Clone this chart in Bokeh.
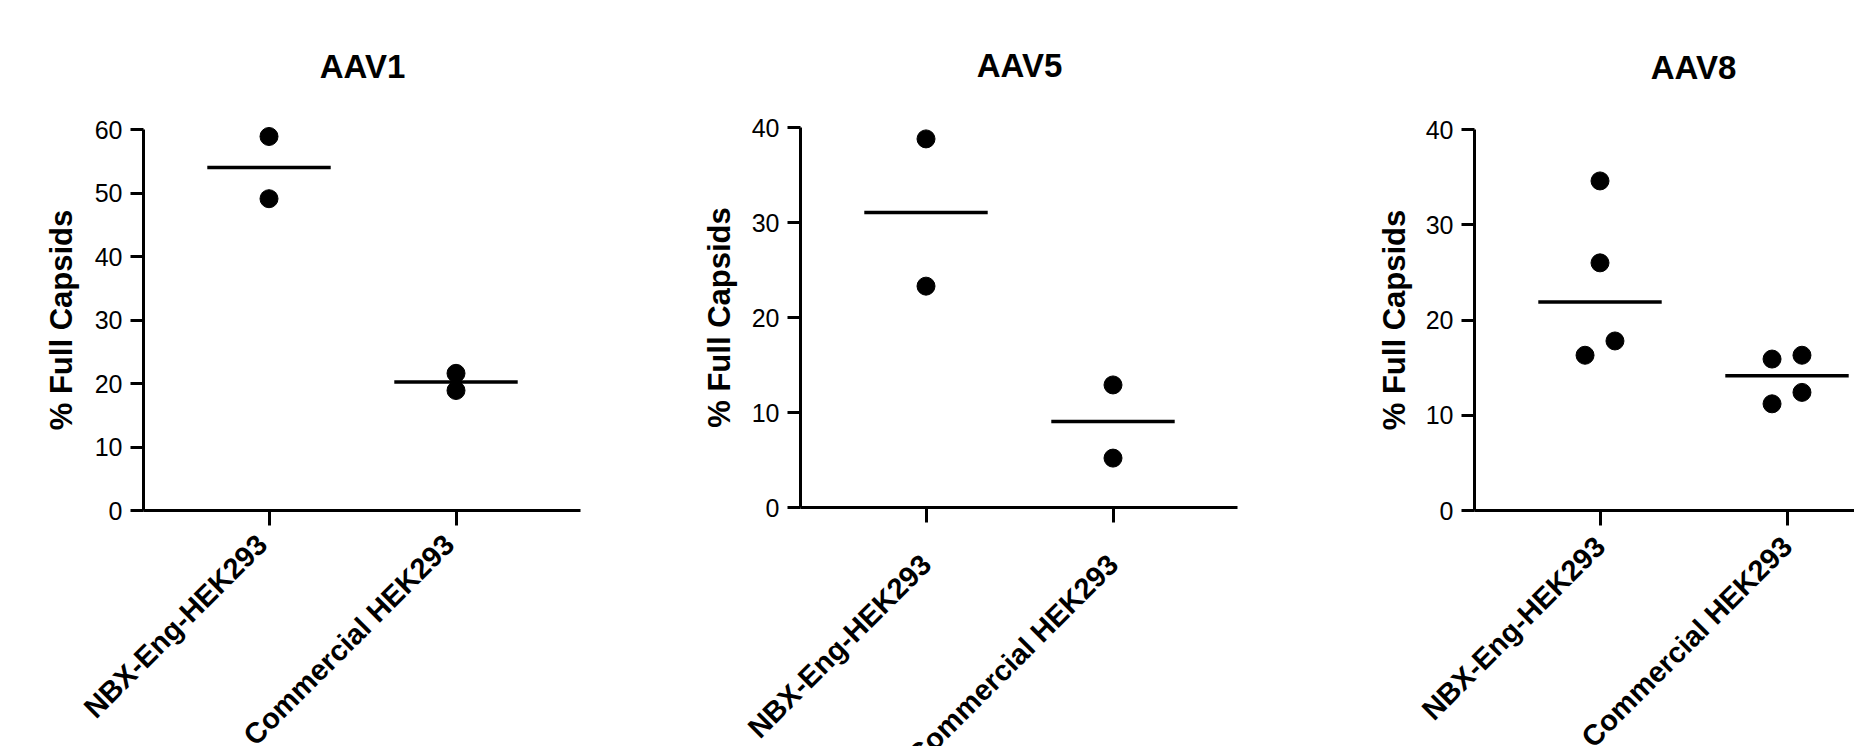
import numpy as np
from bokeh.plotting import figure
from bokeh.layouts import row
from bokeh.models import Range1d, FixedTicker, Label
from bokeh.embed import file_html
from bokeh.resources import INLINE

# ---------------- data ----------------
groups = ["NBX-Eng-HEK293", "Commercial HEK293"]
titles = ["AAV1", "AAV5", "AAV8"]
y_max = [60, 40, 40]
y_ticks_aav1 = [0, 10, 20, 30, 40, 50, 60]
y_ticks_aav5 = [0, 10, 20, 30, 40]
y_ticks_aav8 = [0, 10, 20, 30, 40]
y_title = "% Full Capsids"

aav1_nbx = [58.9, 49.1]
aav1_com = [21.6, 18.9]
aav5_nbx = [38.8, 23.3]
aav5_com = [12.9, 5.2]
aav8_nbx = [34.6, 26.0, 17.8, 16.3]
aav8_com = [15.9, 16.3, 12.4, 11.2]

# horizontal scatter offsets of the points (category units), as in the dot plot
aav1_nbx_dx = [0.0, 0.0]
aav1_com_dx = [0.0, 0.0]
aav5_nbx_dx = [0.0, 0.0]
aav5_com_dx = [0.0, 0.0]
aav8_nbx_dx = [0.0, 0.0, 0.08, -0.08]
aav8_com_dx = [-0.08, 0.08, 0.08, -0.08]

# ---------------- layout (pixels) ----------------
FONT = "Liberation Sans"
H = 746          # canvas height
UNIT = 187.0     # pixels between the two categories
PAD = 125.5      # pixels from the y axis to the first category
AXIS_LEN = 437.0 # length of the x axis
TICK_X = 15      # length of the x ticks


def make_panel(title, ymax, yticks, nbx, com, nbx_dx, com_dx,
               width, axis_px, top_px, zero_px, title_px, ylab_px, lab_dx, lab_dy):
    # the frame covers the whole canvas; axes are drawn at fixed data locations
    first_tick_px = axis_px + PAD
    x_start = -first_tick_px / UNIT
    x_end = (width - first_tick_px) / UNIT
    ax0 = -PAD / UNIT
    ax1 = min(ax0 + AXIS_LEN / UNIT, x_end)
    ppu = (zero_px - top_px) / ymax
    y_start = -(H - zero_px) / ppu
    y_end = zero_px / ppu

    p = figure(width=width, height=H,
               x_range=Range1d(x_start, x_end), y_range=Range1d(y_start, y_end),
               output_backend="svg", toolbar_location=None,
               min_border_left=0, min_border_right=0,
               min_border_top=0, min_border_bottom=0,
               background_fill_color="white", border_fill_color="white",
               outline_line_color=None)
    p.grid.visible = False

    # y axis
    ya = p.yaxis[0]
    ya.fixed_location = ax0
    ya.bounds = (0, ymax)
    ya.ticker = FixedTicker(ticks=yticks, minor_ticks=[])
    ya.axis_line_width = 3
    ya.axis_line_color = "black"
    ya.major_tick_line_width = 3
    ya.major_tick_line_color = "black"
    ya.major_tick_out = 13
    ya.major_tick_in = 0
    ya.minor_tick_out = 0
    ya.minor_tick_in = 0
    ya.major_label_text_font = FONT
    ya.major_label_text_font_size = "25px"
    ya.major_label_text_color = "black"
    ya.major_label_standoff = 8

    # x axis (category names are drawn as rotated labels below)
    xa = p.xaxis[0]
    xa.fixed_location = 0
    xa.bounds = (ax0, ax1)
    xa.ticker = FixedTicker(ticks=[0, 1], minor_ticks=[])
    xa.major_label_overrides = {0: "", 1: ""}
    xa.axis_line_width = 3
    xa.axis_line_color = "black"
    xa.major_tick_line_width = 3
    xa.major_tick_line_color = "black"
    xa.major_tick_out = TICK_X
    xa.major_tick_in = 0
    xa.minor_tick_out = 0
    xa.minor_tick_in = 0

    for i, g in enumerate(groups):
        p.add_layout(Label(x=i, y=0, x_offset=lab_dx, y_offset=-(TICK_X + lab_dy), text=g,
                           angle=np.pi / 4, text_align="right", text_baseline="middle",
                           text_font=FONT, text_font_size="29px", text_font_style="bold",
                           text_color="black"))

    # title and y-axis title
    p.add_layout(Label(x=0.5, y=ymax, y_offset=top_px - title_px, text=title,
                       text_align="center", text_baseline="middle",
                       text_font=FONT, text_font_size="33px", text_font_style="bold",
                       text_color="black"))
    p.add_layout(Label(x=ax0, y=ymax / 2, x_offset=ylab_px - axis_px, text=y_title,
                       angle=np.pi / 2, text_align="center", text_baseline="middle",
                       text_font=FONT, text_font_size="31px", text_font_style="bold",
                       text_color="black"))

    # points
    xs = [0 + d for d in nbx_dx] + [1 + d for d in com_dx]
    ys = list(nbx) + list(com)
    p.scatter(xs, ys, size=18, color="black", marker="circle")

    # median lines
    meds = [float(np.median(nbx)), float(np.median(com))]
    p.segment(x0=[-0.33, 0.67], x1=[0.33, 1.33], y0=meds, y1=meds,
              line_width=3.5, line_color="black")
    return p


p1 = make_panel(titles[0], y_max[0], y_ticks_aav1, aav1_nbx, aav1_com, aav1_nbx_dx, aav1_com_dx,
                width=600, axis_px=143, top_px=129, zero_px=510, title_px=66, ylab_px=61,
                lab_dx=-7, lab_dy=14)
p2 = make_panel(titles[1], y_max[1], y_ticks_aav5, aav5_nbx, aav5_com, aav5_nbx_dx, aav5_com_dx,
                width=657, axis_px=200, top_px=127, zero_px=507, title_px=65, ylab_px=119,
                lab_dx=0, lab_dy=37)
p3 = make_panel(titles[2], y_max[2], y_ticks_aav8, aav8_nbx, aav8_com, aav8_nbx_dx, aav8_com_dx,
                width=597, axis_px=217, top_px=129, zero_px=510, title_px=67, ylab_px=137,
                lab_dx=0, lab_dy=16)

layout = row(p1, p2, p3)
open("out.html", "w").write(file_html(layout, INLINE))
